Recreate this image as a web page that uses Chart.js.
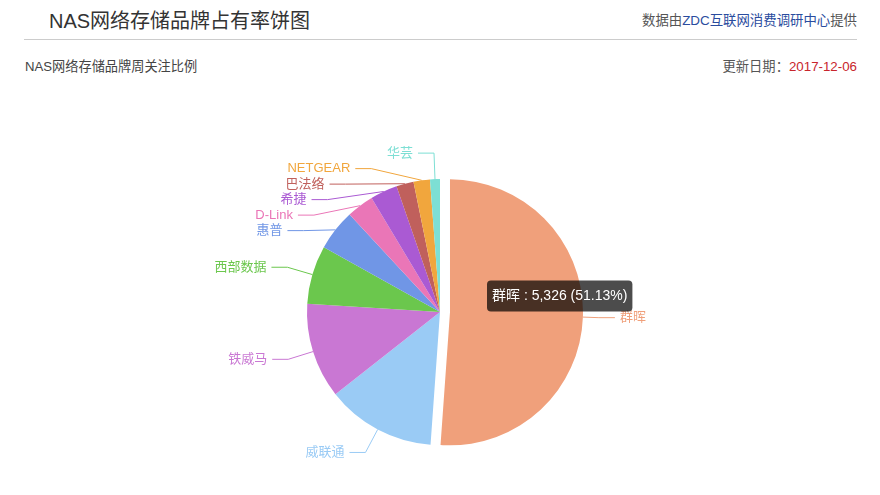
<!DOCTYPE html>
<html>
<head>
<meta charset="utf-8">
<script src="https://cdn.jsdelivr.net/npm/chart.js@4/dist/chart.umd.min.js"></script>
<style>
  html, body { margin: 0; padding: 0; background: #fff; }
  body { width: 880px; height: 495px; position: relative; overflow: hidden;
         font-family: "Liberation Sans", "Noto Sans CJK SC", sans-serif; }
  .abs { position: absolute; white-space: nowrap; }
  #title { left: 49px; top: 8px; height: 26px; line-height: 26px; font-size: 20px; color: #333; }
  #source { right: 23px; top: 12px; height: 18px; line-height: 18px; font-size: 13.4px; color: #555; }
  #source span { color: #2a4c9e; }
  #rule { left: 24px; top: 39px; width: 833px; height: 1px; background: #ccc; }
  #sub { left: 25px; top: 58px; height: 18px; line-height: 18px; font-size: 13.2px; color: #444; }
  #date { right: 23px; top: 58px; height: 18px; line-height: 18px; font-size: 13.3px; color: #555; }
  #date span { color: #c8252c; }
  #wrap { position: absolute; left: 0; top: 0; width: 880px; height: 495px; }
</style>
</head>
<body>
<div class="abs" id="title">NAS网络存储品牌占有率饼图</div>
<div class="abs" id="source">数据由<span>ZDC互联网消费调研中心</span>提供</div>
<div class="abs" id="rule"></div>
<div class="abs" id="sub">NAS网络存储品牌周关注比例</div>
<div class="abs" id="date">更新日期：<span>2017-12-06</span></div>
<div id="wrap"><canvas id="pie" width="880" height="495"></canvas></div>
<script>
/* ===== DATA ===== */
const brands = ["群晖", "威联通", "铁威马", "西部数据", "惠普", "D-Link", "希捷", "巴法络", "NETGEAR", "华芸"];
const hits = [5326, 1381, 1208, 740, 521, 344, 344, 219, 208, 125];
const colors = ["#f0a07b", "#9acbf5", "#c977d3", "#6bc74d", "#7096e6", "#ea76b7", "#aa5ad3", "#c0605c", "#f1a63d", "#7ddfd4"];
const selected = [10, 0, 0, 0, 0, 0, 0, 0, 0, 0];

const total = hits.reduce((a, b) => a + b, 0);

/* ===== SELECTED SLICE PULLED OUT ===== */
// chart.js offset also grows the radius, so shift the arc ourselves
const explode = {
  id: "explode",
  beforeDatasetsDraw(chart) {
    chart.getDatasetMeta(0).data.forEach((arc, i) => {
      if (!selected[i] || arc._wrapped) return;
      const draw = arc.draw;
      arc.draw = function (ctx, area) {
        const mid = (this.startAngle + this.endAngle) / 2;
        ctx.save();
        ctx.translate(Math.cos(mid) * selected[i], Math.sin(mid) * selected[i]);
        draw.call(this, ctx, area);
        ctx.restore();
      };
      arc._wrapped = true;
    });
  }
};

/* ===== OUTER LABELS (echarts style) ===== */
const LINE1 = 26, LINE2 = 16, GAP = 15.5;
const outerLabels = {
  id: "outerLabels",
  afterDatasetsDraw(chart) {
    const ctx = chart.ctx;
    const meta = chart.getDatasetMeta(0);
    const items = meta.data.map((arc, i) => {
      const p = arc.getProps(["x", "y", "startAngle", "endAngle", "outerRadius"], true);
      const mid = (p.startAngle + p.endAngle) / 2;
      const off = selected[i] || 0;
      const cos = Math.cos(mid), sin = Math.sin(mid);
      const R = p.outerRadius + LINE1;
      return {
        i, cx: p.x, cy: p.y, R, left: cos < 0,
        sx: p.x + cos * (p.outerRadius + off), sy: p.y + sin * (p.outerRadius + off),
        ex: p.x + cos * R, ey: p.y + sin * R
      };
    });

    [true, false].forEach(side => {
      const list = items.filter(it => it.left === side).sort((a, b) => a.ey - b.ey);
      for (let k = 1; k < list.length; k++) {
        if (list[k].ey < list[k - 1].ey + GAP) {
          list[k].ey = list[k - 1].ey + GAP;
          const dy = list[k].ey - list[k].cy;
          const dx = Math.sqrt(Math.max(list[k].R * list[k].R - dy * dy, 0));
          list[k].ex = list[k].cx + (side ? -dx : dx);
        }
      }
    });

    ctx.save();
    ctx.font = '13px "Liberation Sans", "Noto Sans CJK SC", sans-serif';
    ctx.textBaseline = "middle";
    ctx.lineWidth = 1;
    items.forEach(it => {
      const dir = it.left ? -1 : 1;
      const hx = it.ex + dir * LINE2;
      ctx.strokeStyle = colors[it.i];
      ctx.beginPath();
      ctx.moveTo(it.sx, it.sy);
      ctx.lineTo(it.ex, it.ey);
      ctx.lineTo(hx, it.ey);
      ctx.stroke();
      ctx.fillStyle = colors[it.i];
      ctx.textAlign = it.left ? "right" : "left";
      ctx.fillText(brands[it.i], hx + dir * 5, it.ey);
    });
    ctx.restore();
  }
};

/* ===== TOOLTIP POSITION ===== */
Chart.Tooltip.positioners.pointer = function (els) {
  if (!els.length) return false;
  const el = els[0].element;
  return { x: el.x + 47, y: el.y - 16 };
};

const chart = new Chart(document.getElementById("pie"), {
  type: "pie",
  data: {
    labels: brands,
    datasets: [{
      data: hits,
      backgroundColor: colors,
      borderWidth: 0,
      hoverOffset: 0
    }]
  },
  options: {
    responsive: false,
    animation: false,
    events: [],
    layout: { padding: { top: 179, bottom: 50, left: 200, right: 200 } },
    plugins: {
      legend: { display: false },
      title: { display: false },
      tooltip: {
        position: "pointer",
        xAlign: "left",
        yAlign: "center",
        caretSize: 0,
        caretPadding: 0,
        cornerRadius: 4,
        backgroundColor: "rgba(0,0,0,0.7)",
        displayColors: false,
        padding: { top: 7, bottom: 7, left: 5, right: 5 },
        bodyFont: { size: 14, family: '"Liberation Sans", "Noto Sans CJK SC", sans-serif' },
        bodyColor: "#fff",
        callbacks: {
          title: () => "",
          label: c => `${c.label} : ${c.raw.toLocaleString("en-US")} (${(c.raw / total * 100).toFixed(2)}%)`
        }
      }
    }
  },
  plugins: [explode, outerLabels]
});

chart.tooltip.setActiveElements([{ datasetIndex: 0, index: 0 }], { x: 0, y: 0 });
chart.update();
</script>
</body>
</html>
